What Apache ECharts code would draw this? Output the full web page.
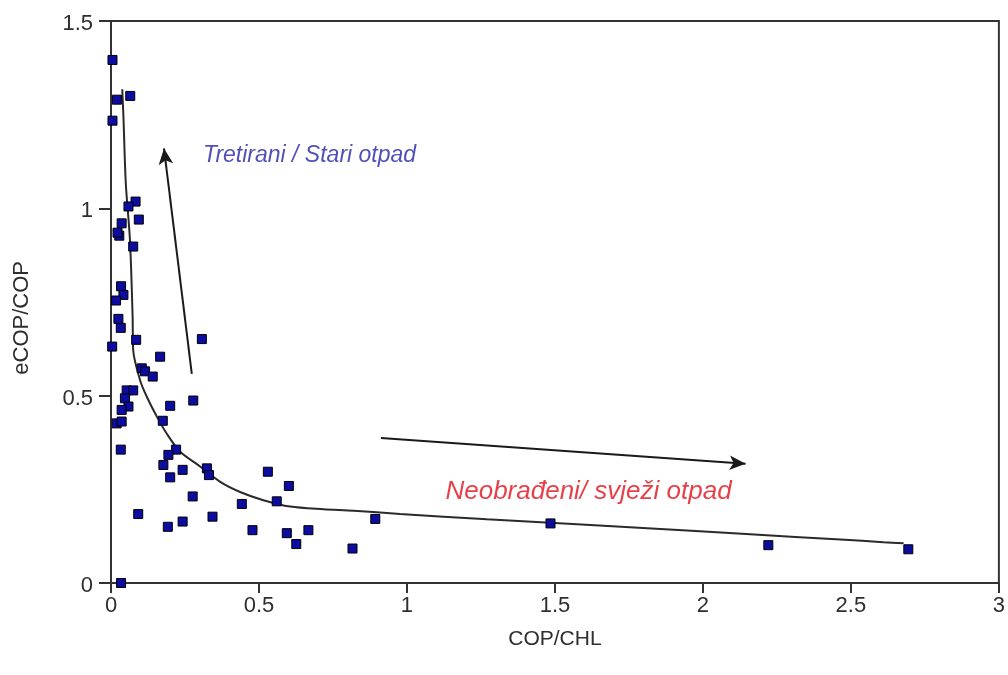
<!DOCTYPE html>
<html>
<head>
<meta charset="utf-8">
<script src="https://cdn.jsdelivr.net/npm/echarts@6/dist/echarts.min.js"></script>
<style>html,body{margin:0;padding:0;background:#fff}#c{width:1008px;height:675px}</style>
</head>
<body>
<div id="c"></div>
<script>
// Data points (COP/CHL, eCOP/COP)
var xValues = [0.005,0.020,0.065,0.005,0.083,0.059,0.094,0.036,0.028,0.022,0.075,0.034,0.042,0.017,0.025,0.033,0.004,0.085,0.307,0.166,0.104,0.115,0.141,0.053,0.075,0.047,0.059,0.036,0.278,0.200,0.019,0.036,0.175,0.033,0.220,0.194,0.177,0.200,0.242,0.324,0.331,0.530,0.601,0.276,0.442,0.560,0.092,0.343,0.242,0.192,0.478,0.594,0.667,0.626,0.034,0.816,0.893,1.485,2.221,2.694];
var yValues = [1.396,1.290,1.300,1.234,1.018,1.005,0.970,0.960,0.927,0.935,0.898,0.792,0.769,0.754,0.705,0.681,0.631,0.649,0.651,0.604,0.573,0.565,0.551,0.514,0.514,0.493,0.471,0.462,0.487,0.473,0.426,0.431,0.433,0.356,0.356,0.342,0.315,0.282,0.302,0.306,0.288,0.297,0.259,0.231,0.211,0.218,0.184,0.177,0.164,0.150,0.141,0.133,0.141,0.104,0.000,0.092,0.171,0.159,0.101,0.090];
// Fitted trend curve
var curveX = [0.038,0.042,0.050,0.064,0.073,0.075,0.098,0.121,0.155,0.188,0.233,0.301,0.369,0.436,0.515,0.605,0.718,0.820,0.977,1.270,1.575,1.990,2.160,2.465,2.610,2.678];
var curveY = [1.318,1.245,1.067,0.916,0.711,0.622,0.542,0.497,0.444,0.399,0.351,0.311,0.270,0.243,0.221,0.204,0.197,0.193,0.184,0.170,0.157,0.138,0.130,0.116,0.109,0.106];
// Arrows: [x1, y1, x2, y2]
var arrowTreated = [0.273, 0.558, 0.179, 1.160];
var arrowFresh = [0.912, 0.387, 2.144, 0.318];
// Annotations
var labelTreated = {text: 'Tretirani / Stari otpad', x: 0.311, y: 1.142};
var labelFresh = {text: 'Neobrađeni/ svježi otpad', x: 1.13, y: 0.243};
var xTicks = {min: 0, max: 3, interval: 0.5};
var yTicks = {min: 0, max: 1.5, interval: 0.5};
var xTitle = 'COP/CHL';
var yTitle = 'eCOP/COP';

var points = xValues.map(function(x, i){ return [x, yValues[i]]; });
var curve = curveX.map(function(x, i){ return [x, curveY[i]]; });

var FONT = 'Liberation Sans, Arial, sans-serif';
var chart = echarts.init(document.getElementById('c'), null, {renderer: 'canvas'});
var axisLabelStyle = {color: '#2e2e2e', fontSize: 22, fontFamily: FONT};
chart.setOption({
  animation: false,
  backgroundColor: '#fff',
  grid: {left: 111, right: 9, top: 21, bottom: 92, show: true, borderColor: '#333', borderWidth: 2, backgroundColor: 'transparent'},
  graphic: [
    {type: 'text', left: 11, top: 261, rotation: Math.PI / 2, originX: 0, originY: 0,
     style: {text: yTitle, fill: '#2e2e2e', fontSize: 22, fontFamily: FONT}}
  ],
  xAxis: {
    type: 'value', min: xTicks.min, max: xTicks.max, interval: xTicks.interval,
    name: xTitle, nameLocation: 'middle', nameGap: 46,
    nameTextStyle: {color: '#2e2e2e', fontSize: 21, fontFamily: FONT},
    axisLine: {onZero: false, lineStyle: {color: '#333', width: 2}},
    axisTick: {show: true, length: 10, lineStyle: {color: '#333', width: 2}},
    axisLabel: Object.assign({margin: 12}, axisLabelStyle),
    splitLine: {show: false}
  },
  yAxis: {
    type: 'value', min: yTicks.min, max: yTicks.max, interval: yTicks.interval,
    axisLine: {onZero: false, lineStyle: {color: '#333', width: 2}},
    axisTick: {show: true, length: 12, lineStyle: {color: '#333', width: 2}},
    axisLabel: Object.assign({margin: 18, verticalAlign: 'top', lineHeight: 22, padding: [-8, 0, 0, 0]}, axisLabelStyle),
    splitLine: {show: false}
  },
  series: [
    {
      type: 'line', data: curve, symbol: 'none', smooth: 0.3, z: 2,
      lineStyle: {color: '#2a2a2a', width: 2},
      markLine: {
        silent: true, symbol: ['none', 'arrow'], symbolSize: [11, 16],
        label: {show: false},
        lineStyle: {color: '#1a1a1a', width: 2, type: 'solid'},
        data: [
          [{coord: [arrowTreated[0], arrowTreated[1]]}, {coord: [arrowTreated[2], arrowTreated[3]]}],
          [{coord: [arrowFresh[0], arrowFresh[1]]}, {coord: [arrowFresh[2], arrowFresh[3]]}]
        ]
      }
    },
    {
      type: 'scatter', data: points, symbol: 'rect', symbolSize: 9, z: 3,
      itemStyle: {color: '#0c0ca0', borderColor: '#000', borderWidth: 1, opacity: 1}
    },
    {
      type: 'scatter', symbolSize: 0, silent: true, z: 4,
      data: [
        {value: [labelTreated.x, labelTreated.y], label: {show: true, position: 'right', distance: 0, formatter: labelTreated.text, color: '#2424a4', fontSize: 23, fontStyle: 'italic', fontFamily: FONT}},
        {value: [labelFresh.x, labelFresh.y], label: {show: true, position: 'right', distance: 0, formatter: labelFresh.text, color: '#e0101c', fontSize: 26, fontStyle: 'italic', fontFamily: FONT}}
      ]
    }
  ]
});
</script>
</body>
</html>
